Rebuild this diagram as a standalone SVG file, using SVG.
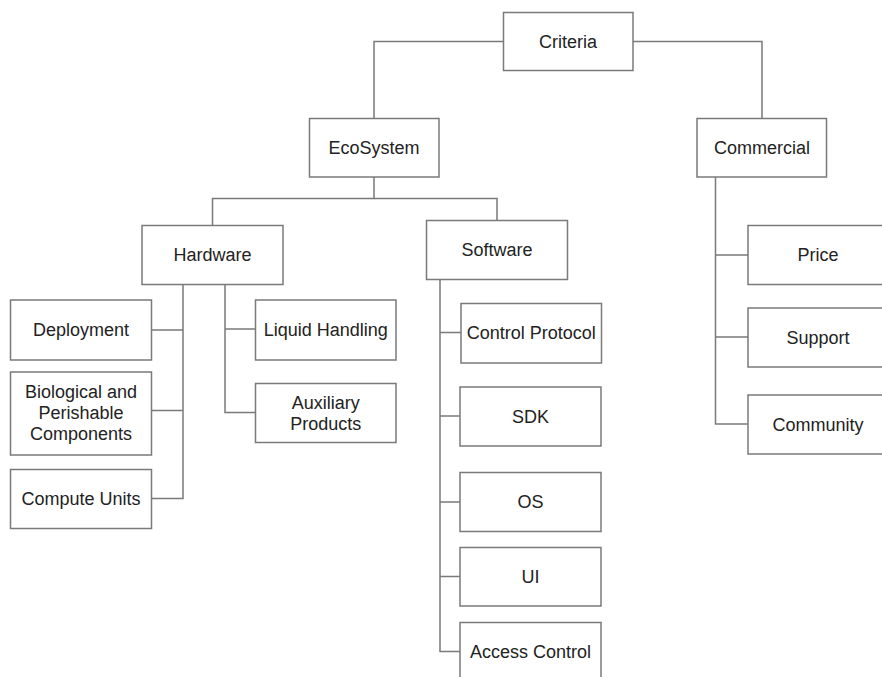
<svg xmlns="http://www.w3.org/2000/svg" width="882" height="677" viewBox="0 0 882 677">
<style>
.box{fill:#fff;stroke:#7a7a7a;stroke-width:1.5}
.lbl{font-family:"Liberation Sans",Arial,sans-serif;font-size:18px;fill:#222;text-anchor:middle}
.con{fill:none;stroke:#7a7a7a;stroke-width:1.5}
</style>
<rect width="882" height="677" fill="#fff"/>
<g id="connectors">
<path class="con" d="M503.5 41.5H374V118.5"/>
<path class="con" d="M633 41.5H762V118.5"/>
<path class="con" d="M374 177V198.5H212.5V225.5"/>
<path class="con" d="M374 198.5H497V220.5"/>
<path class="con" d="M183 284.5V498.5H151.5M183 330H151.5M183 410.5H151.5"/>
<path class="con" d="M225 284.5V412.5H255.5M225 329H255.5"/>
<path class="con" d="M440 279.5V651.5H460M440 332.5H461M440 416H460M440 502H460M440 576.5H460"/>
<path class="con" d="M715.5 177V424H748M715.5 255H748M715.5 337H748"/>
</g>
<g id="criteria"><rect class="box" x="503.5" y="12.5" width="129.5" height="58"/><text class="lbl" x="568" y="47.5">Criteria</text></g>
<g id="ecosystem"><rect class="box" x="309.5" y="118.5" width="129.5" height="58.5"/><text class="lbl" x="374" y="153.5">EcoSystem</text></g>
<g id="commercial"><rect class="box" x="697" y="118.5" width="129.5" height="58.5"/><text class="lbl" x="762" y="153.5">Commercial</text></g>
<g id="hardware"><rect class="box" x="142" y="225.5" width="141" height="59"/><text class="lbl" x="212.5" y="261">Hardware</text></g>
<g id="software"><rect class="box" x="426.5" y="220.5" width="141" height="59"/><text class="lbl" x="497" y="256">Software</text></g>
<g id="deployment"><rect class="box" x="10.5" y="300" width="141" height="60"/><text class="lbl" x="81" y="336">Deployment</text></g>
<g id="liquid-handling"><rect class="box" x="255.5" y="300" width="140.5" height="60"/><text class="lbl" x="325.7" y="336">Liquid Handling</text></g>
<g id="biological"><rect class="box" x="10.5" y="372" width="141" height="83"/><text class="lbl" x="81" y="397.5">Biological and</text><text class="lbl" x="81" y="418.5">Perishable</text><text class="lbl" x="81" y="439.5">Components</text></g>
<g id="auxiliary"><rect class="box" x="255.5" y="383.5" width="140.5" height="59"/><text class="lbl" x="325.7" y="408.5">Auxiliary</text><text class="lbl" x="325.7" y="429.5">Products</text></g>
<g id="compute-units"><rect class="box" x="10.5" y="469.5" width="141" height="59"/><text class="lbl" x="81" y="505">Compute Units</text></g>
<g id="control-protocol"><rect class="box" x="461" y="303.5" width="140.5" height="59.5"/><text class="lbl" x="531.2" y="339">Control Protocol</text></g>
<g id="sdk"><rect class="box" x="460" y="387" width="141" height="59"/><text class="lbl" x="530.5" y="422.5">SDK</text></g>
<g id="os"><rect class="box" x="460" y="472.5" width="141" height="59"/><text class="lbl" x="530.5" y="508">OS</text></g>
<g id="ui"><rect class="box" x="460" y="547.5" width="141" height="58.5"/><text class="lbl" x="530.5" y="582.5">UI</text></g>
<g id="access-control"><rect class="box" x="460" y="622.5" width="141" height="60"/><text class="lbl" x="530.5" y="657.5">Access Control</text></g>
<g id="price"><rect class="box" x="748" y="225.5" width="140" height="59"/><text class="lbl" x="818" y="261">Price</text></g>
<g id="support"><rect class="box" x="748" y="308" width="140" height="59"/><text class="lbl" x="818" y="343.5">Support</text></g>
<g id="community"><rect class="box" x="748" y="395" width="140" height="59"/><text class="lbl" x="818" y="430.5">Community</text></g>
</svg>
